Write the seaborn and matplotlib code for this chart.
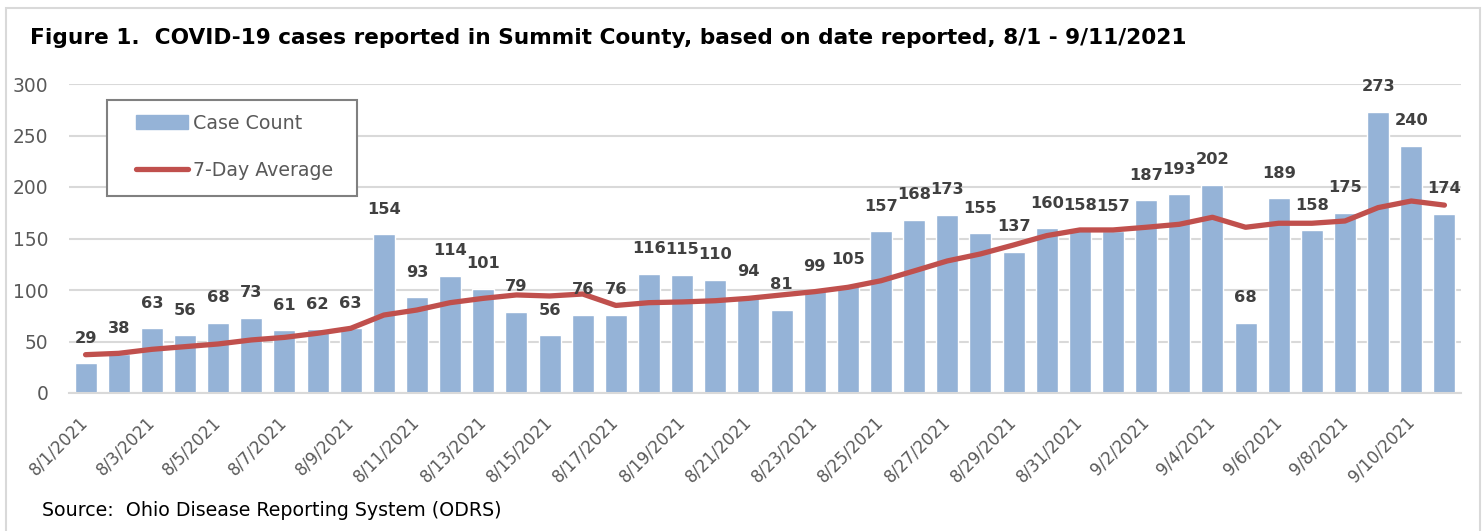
import matplotlib
matplotlib.use("Agg")
import matplotlib.pyplot as plt
import seaborn as sns
import pandas as pd
from matplotlib.patches import Rectangle, Patch
from matplotlib.lines import Line2D

dates = ["8/1/2021", "8/2/2021", "8/3/2021", "8/4/2021", "8/5/2021", "8/6/2021", "8/7/2021",
         "8/8/2021", "8/9/2021", "8/10/2021", "8/11/2021", "8/12/2021", "8/13/2021", "8/14/2021",
         "8/15/2021", "8/16/2021", "8/17/2021", "8/18/2021", "8/19/2021", "8/20/2021", "8/21/2021",
         "8/22/2021", "8/23/2021", "8/24/2021", "8/25/2021", "8/26/2021", "8/27/2021", "8/28/2021",
         "8/29/2021", "8/30/2021", "8/31/2021", "9/1/2021", "9/2/2021", "9/3/2021", "9/4/2021",
         "9/5/2021", "9/6/2021", "9/7/2021", "9/8/2021", "9/9/2021", "9/10/2021", "9/11/2021"]
case_count = [29, 38, 63, 56, 68, 73, 61, 62, 63, 154, 93, 114, 101, 79, 56, 76, 76, 116, 115,
              110, 94, 81, 99, 105, 157, 168, 173, 155, 137, 160, 158, 157, 187, 193, 202, 68,
              189, 158, 175, 273, 240, 174]
seven_day_avg = [37.2, 38.5, 42.4, 45.0, 47.6, 51.5, 54.0, 58.0, 62.8, 75.7, 80.6, 87.7, 91.9,
                 95.2, 94.2, 96.1, 85.0, 87.7, 88.4, 89.6, 91.9, 95.2, 98.4, 102.6, 109.0, 118.5,
                 128.2, 135.0, 143.7, 152.8, 158.3, 158.3, 160.9, 163.8, 170.6, 160.9, 164.8,
                 164.8, 167.0, 180.0, 186.4, 182.4]
yticks = [0, 50, 100, 150, 200, 250, 300]
title = "Figure 1.  COVID-19 cases reported in Summit County, based on date reported, 8/1 - 9/11/2021"
source = "Source:  Ohio Disease Reporting System (ODRS)"
legend_labels = ["Case Count", "7-Day Average"]

df = pd.DataFrame({"date": dates, "cases": case_count, "avg": seven_day_avg})
df["pos"] = range(len(df))

sns.set_theme(style="white")
plt.rcParams["font.family"] = ["DejaVu Sans"]

W, H = 1482, 531
fig = plt.figure(figsize=(W / 100, H / 100), dpi=100)
fig.patches.append(Rectangle((6 / W, -0.01), (1480 - 6) / W, 1 - 8 / H + 0.01,
                             transform=fig.transFigure, fill=False, edgecolor="#d9d9d9",
                             linewidth=1.5))

x0, x1, y0, y1 = 69, 1461, 393, 84
ax = fig.add_axes([x0 / W, (H - y0) / H, (x1 - x0) / W, (y0 - y1) / H])

BAR = "#95B3D7"
LINE = "#C0504D"
sns.barplot(data=df, x="pos", y="cases", color=BAR, width=0.66, ax=ax, saturation=1,
            native_scale=True, zorder=2)
sns.lineplot(data=df, x="pos", y="avg", color=LINE, linewidth=3.8, ax=ax, zorder=3,
             solid_capstyle="round")

for i, v in enumerate(case_count):
    ax.annotate(str(v), (i, v), xytext=(0, 18), textcoords="offset points",
                ha="center", va="center", fontsize=11.7, fontweight="bold", color="#404040",
                zorder=5)

ax.set_xlim(-0.5, len(dates) - 0.5)
ax.set_ylim(0, 300)
ax.set_yticks(yticks)
ax.set_yticklabels([str(t) for t in yticks], fontsize=13.4, color="#595959")
ax.yaxis.grid(True, color="#d9d9d9", linewidth=1.5, zorder=0)
ax.set_axisbelow(True)

major = list(range(0, len(dates), 2))
ax.set_xticks(major)
ax.set_xticklabels([dates[i] for i in major], rotation=45, ha="right", va="center",
                   rotation_mode="anchor", fontsize=12, color="#595959")
ax.set_xticks([b - 0.5 for b in range(0, len(dates) + 1, 2)], minor=True)
ax.tick_params(axis="x", which="major", length=0, pad=19)
ax.tick_params(axis="x", which="minor", length=7, width=1.3, color="#d9d9d9", direction="out")
ax.tick_params(axis="y", length=0, pad=15)
ax.set_xlabel("")
ax.set_ylabel("")
for s in ["top", "right", "left"]:
    ax.spines[s].set_visible(False)
ax.spines["bottom"].set_color("#d9d9d9")
ax.spines["bottom"].set_linewidth(1.5)


def ax_xy(px, py):
    return ((px - x0) / (x1 - x0), (y0 - py) / (y0 - y1))


# legend frame
lx, ly = ax_xy(107, 196)
lx2, ly2 = ax_xy(357, 100)
ax.add_patch(Rectangle((lx, ly), lx2 - lx, ly2 - ly, transform=ax.transAxes, fill=True,
                       facecolor="white", edgecolor="#808080", linewidth=1.5, zorder=6))

handles = [Patch(facecolor=BAR, edgecolor=BAR),
           Line2D([0], [0], color=LINE, linewidth=3.8, solid_capstyle="round")]
leg = ax.legend(handles, legend_labels, loc="center left",
                bbox_to_anchor=ax_xy(136, 147),
                fontsize=13.7, frameon=False, handlelength=2.75,
                handleheight=0.75, labelspacing=1.5, borderpad=0, handletextpad=0.26,
                borderaxespad=0)
leg.set_zorder(7)
for t in leg.get_texts():
    t.set_color("#595959")

fig.text(30 / W, 1 - 38 / H, title, fontsize=15.6, fontweight="bold", color="black",
         ha="left", va="center")
fig.text(42 / W, 1 - 510 / H, source, fontsize=13.7, color="black", ha="left", va="center")

fig.savefig("out.png", dpi=100)
